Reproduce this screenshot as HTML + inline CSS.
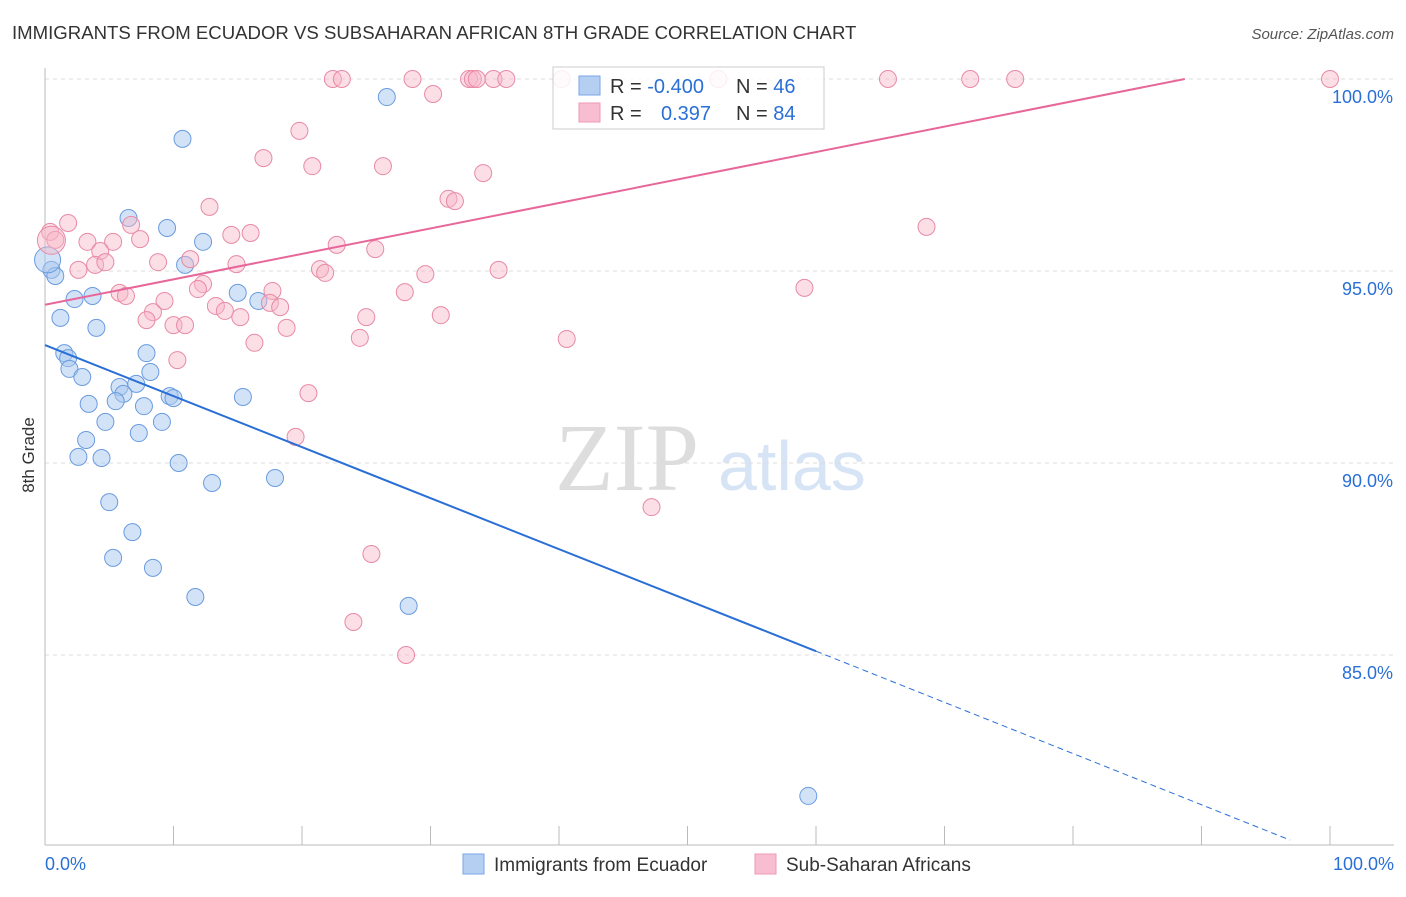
<!DOCTYPE html>
<html><head><meta charset="utf-8"><style>
body{margin:0;background:#fff;font-family:"Liberation Sans",sans-serif;}
</style></head><body>
<svg width="1406" height="892" xmlns="http://www.w3.org/2000/svg" id="svg" font-family="Liberation Sans, sans-serif">
<text x="12" y="39" font-size="18.6" fill="#333">IMMIGRANTS FROM ECUADOR VS SUBSAHARAN AFRICAN 8TH GRADE CORRELATION CHART</text>
<text x="1394" y="39" font-size="15" fill="#555" text-anchor="end" font-style="italic">Source: ZipAtlas.com</text>
<text transform="translate(34,455) rotate(-90)" font-size="17" fill="#333" text-anchor="middle">8th Grade</text>
<text x="555" y="490" font-size="96" fill="#ddd" font-family="Liberation Serif, serif">ZIP</text>
<text x="718" y="490" font-size="70" fill="#d6e4f5">atlas</text>
<g id="grid"></g><g id="pts"></g><g id="lines"></g>
<g>
<rect x="553" y="67" width="271" height="62" fill="#fff" fill-opacity="0.85" stroke="#ccc"/>
<rect x="579" y="76" width="21" height="19" fill="#b5cff3" stroke="#7aa6e6"/>
<rect x="579" y="103" width="21" height="19" fill="#f8bdd0" stroke="#ee9ab5"/>
<text x="610" y="93" font-size="20" fill="#333">R = <tspan fill="#2a6fd6">-0.400</tspan></text>
<text x="736" y="93" font-size="20" fill="#333">N = <tspan fill="#2a6fd6">46</tspan></text>
<text x="610" y="120" font-size="20" fill="#333">R = <tspan fill="#2a6fd6" x="661">0.397</tspan></text>
<text x="736" y="120" font-size="20" fill="#333">N = <tspan fill="#2a6fd6">84</tspan></text>
</g>
<g>
<rect x="463" y="854" width="21" height="20" fill="#b5cff3" stroke="#7aa6e6"/>
<text x="494" y="871" font-size="19" fill="#333">Immigrants from Ecuador</text>
<rect x="755" y="854" width="21" height="20" fill="#f8bdd0" stroke="#ee9ab5"/>
<text x="786" y="871" font-size="19" fill="#333">Sub-Saharan Africans</text>
</g>
</svg>
<script>
const yTicks=[100,95,90,85];
const yTickLabels=["100.0%","95.0%","90.0%","85.0%"];
const xTicks=[0,10,20,30,40,50,60,70,80,90,100];
const blueX=[26.6,10.7,6.5,9.5,12.3,10.9,0.5,0.8,2.3,3.7,15.0,16.6,1.2,4.0,1.5,7.9,1.8,1.9,8.2,2.9,7.1,5.8,6.1,5.5,9.7,10.0,15.4,3.4,7.7,4.7,9.1,7.3,3.2,2.6,4.4,10.4,13.0,17.9,5.0,6.8,5.3,8.4,11.7,28.3,59.4,0.2];
const blueY=[99.53,98.44,96.38,96.12,95.76,95.16,95.03,94.87,94.27,94.35,94.43,94.22,93.78,93.52,92.86,92.86,92.73,92.45,92.37,92.24,92.06,91.98,91.80,91.61,91.74,91.69,91.72,91.54,91.48,91.07,91.07,90.78,90.60,90.16,90.13,90.00,89.48,89.61,88.98,88.20,87.53,87.27,86.51,86.28,81.33,95.29];
const pinkX=[22.4,23.1,28.6,33.0,33.3,33.6,34.9,35.9,40.2,52.4,65.6,72.0,75.5,100,30.2,19.8,17.0,20.8,26.3,34.1,12.8,31.4,31.9,1.8,0.4,0.8,6.7,3.3,5.3,7.4,14.5,16.0,22.7,25.7,4.3,8.8,14.9,11.3,2.6,3.9,4.7,21.4,21.8,29.6,35.3,68.6,5.8,6.3,9.3,12.3,11.9,17.7,17.5,18.3,28.0,59.1,13.3,14.0,15.2,8.4,7.9,10.0,10.9,18.8,25.0,30.8,24.5,16.3,40.6,10.3,20.5,19.5,47.2,25.4,24.0,28.1,0.5];
const pinkY=[100,100,100,100,100,100,100,100,100,100,100,100,100,100,99.61,98.65,97.94,97.73,97.73,97.55,96.67,96.88,96.82,96.25,96.02,95.81,96.20,95.76,95.76,95.83,95.94,95.99,95.68,95.57,95.52,95.23,95.18,95.31,95.03,95.16,95.23,95.05,94.95,94.92,95.03,96.15,94.43,94.35,94.22,94.66,94.53,94.48,94.17,94.06,94.45,94.56,94.09,93.96,93.80,93.93,93.72,93.59,93.59,93.52,93.80,93.85,93.26,93.13,93.23,92.68,91.82,90.68,88.85,87.63,85.86,85.00,95.8];
const blueTrend=[93.07,85.10,80.18]; const blueTrendX=[0,60,96.9];
const pinkTrend=[94.12,100]; const pinkTrendX=[0,88.7];
const NS="http://www.w3.org/2000/svg";
const xS=v=>45+v*12.85, yS=v=>79+(100-v)*38.4;
function mk(tag,attrs,parent){const e=document.createElementNS(NS,tag);for(const k in attrs)e.setAttribute(k,attrs[k]);document.getElementById(parent).appendChild(e);return e;}
yTicks.forEach((t,i)=>{
 const l=mk('line',{x1:45,x2:1394,y1:yS(t),y2:yS(t),stroke:'#ddd','stroke-dasharray':'4,4'},'grid');
 
 
 const tx=mk('text',{x:1393,y:yS(t)+24,'font-size':18,fill:'#2a6fd6','text-anchor':'end'},'grid');tx.textContent=yTickLabels[i];
 
 
});
const ax=mk('line',{x1:45,x2:45,y1:68,y2:845,stroke:'#bbb'},'grid');


const bx=mk('line',{x1:45,x2:1394,y1:845,y2:845,stroke:'#bbb'},'grid');


xTicks.forEach(t=>{const l=mk('line',{x1:xS(t),x2:xS(t),y1:826,y2:845,stroke:'#bbb'},'grid');
 
 });
[[0,'0.0%','start',45],[100,'100.0%','end',1394]].forEach(a=>{const t=mk('text',{x:a[3],y:870,'font-size':18,fill:'#2a6fd6','text-anchor':a[2]},'grid');t.textContent=a[1];
 
 });
blueX.forEach((v,i)=>{const c=mk('circle',{cx:xS(v),cy:yS(blueY[i]),r:i==blueX.length-1?13:8.5,fill:'#a8c8f0','fill-opacity':0.5,stroke:'#6a9be0','stroke-width':1},'pts');
 
 });
pinkX.forEach((v,i)=>{const c=mk('circle',{cx:xS(v),cy:yS(pinkY[i]),r:i==pinkX.length-1?14:8.5,fill:'#f7b6c8','fill-opacity':0.45,stroke:'#e88aa6','stroke-width':1},'pts');
 
 });
const b1=mk('line',{x1:xS(blueTrendX[0]),y1:yS(blueTrend[0]),x2:xS(blueTrendX[1]),y2:yS(blueTrend[1]),stroke:'#2a6fd6','stroke-width':2},'lines');


const b2=mk('line',{x1:xS(blueTrendX[1]),y1:yS(blueTrend[1]),x2:xS(blueTrendX[2]),y2:yS(blueTrend[2]),stroke:'#2a6fd6','stroke-width':1,'stroke-dasharray':'6,4'},'lines');


const p1=mk('line',{x1:xS(pinkTrendX[0]),y1:yS(pinkTrend[0]),x2:xS(pinkTrendX[1]),y2:yS(pinkTrend[1]),stroke:'#e8679a','stroke-width':2},'lines');


</script>
</body></html>
